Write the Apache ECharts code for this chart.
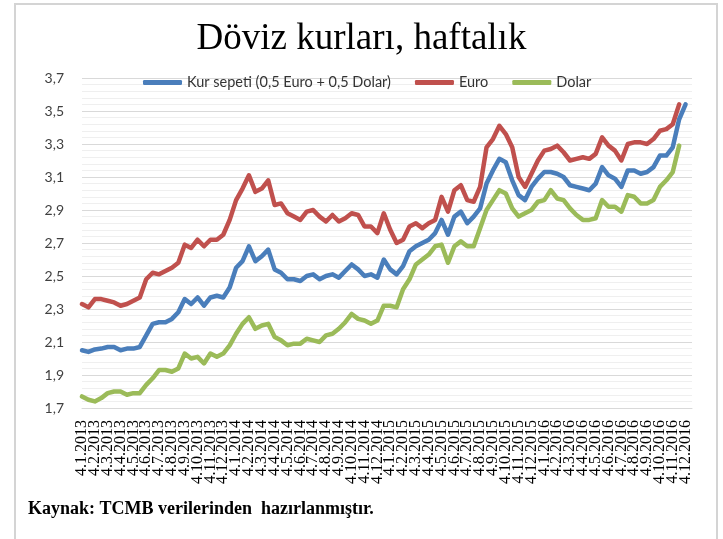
<!DOCTYPE html>
<html>
<head>
<meta charset="utf-8">
<script src="https://cdn.jsdelivr.net/npm/echarts@6/dist/echarts.min.js"></script>
<style>
  html,body{margin:0;padding:0;background:#fff;}
  #chart{width:723px;height:539px;}
</style>
</head>
<body>
<div id="chart"></div>
<script>
// ayın 4'ü ve 18'i, iki haftalık noktalar
const years = [2013, 2014, 2015, 2016];
const euro = [
  2.33, 2.31, 2.36, 2.36, 2.35, 2.34, 2.32, 2.33, 2.35, 2.37,
  2.48, 2.52, 2.51, 2.53, 2.55, 2.58, 2.69, 2.67, 2.72, 2.68,
  2.72, 2.72, 2.75, 2.84, 2.96, 3.03, 3.11, 3.01, 3.03, 3.08,
  2.93, 2.94, 2.88, 2.86, 2.84, 2.89, 2.90, 2.86, 2.83, 2.87,
  2.83, 2.85, 2.88, 2.87, 2.80, 2.80, 2.76, 2.88, 2.78, 2.70,
  2.72, 2.80, 2.82, 2.79, 2.82, 2.84, 2.98, 2.89, 3.02, 3.05,
  2.96, 2.95, 3.04, 3.28, 3.33, 3.41, 3.36, 3.28, 3.10, 3.04,
  3.12, 3.20, 3.26, 3.27, 3.29, 3.25, 3.20, 3.21, 3.22, 3.21,
  3.24, 3.34, 3.29, 3.26, 3.20, 3.30, 3.31, 3.31, 3.30, 3.33,
  3.38, 3.39, 3.42, 3.54, null
];
const sepet = [
  2.05, 2.04, 2.055, 2.06, 2.07, 2.07, 2.05, 2.06, 2.06, 2.07,
  2.14, 2.21, 2.22, 2.22, 2.24, 2.28, 2.36, 2.33, 2.37, 2.32,
  2.37, 2.38, 2.37, 2.43, 2.55, 2.59, 2.68, 2.59, 2.62, 2.66,
  2.54, 2.52, 2.48, 2.48, 2.47, 2.50, 2.51, 2.48, 2.50, 2.51,
  2.49, 2.53, 2.57, 2.54, 2.50, 2.51, 2.49, 2.60, 2.54, 2.51,
  2.56, 2.65, 2.68, 2.70, 2.72, 2.76, 2.84, 2.75, 2.86, 2.89,
  2.82, 2.86, 2.91, 3.06, 3.14, 3.21, 3.19, 3.08, 2.99, 2.96,
  3.04, 3.09, 3.13, 3.13, 3.12, 3.10, 3.05, 3.04, 3.03, 3.02,
  3.06, 3.16, 3.11, 3.09, 3.04, 3.14, 3.14, 3.12, 3.13, 3.16,
  3.23, 3.23, 3.28, 3.45, 3.54
];
const dolar = [
  1.77, 1.75, 1.74, 1.76, 1.79, 1.80, 1.80, 1.78, 1.79, 1.79,
  1.84, 1.88, 1.93, 1.93, 1.92, 1.94, 2.03, 2.00, 2.01, 1.97,
  2.03, 2.01, 2.03, 2.08, 2.15, 2.21, 2.25, 2.18, 2.20, 2.21,
  2.13, 2.11, 2.08, 2.09, 2.09, 2.12, 2.11, 2.10, 2.14, 2.15,
  2.18, 2.22, 2.27, 2.24, 2.23, 2.21, 2.23, 2.32, 2.32, 2.31,
  2.42, 2.48, 2.57, 2.60, 2.63, 2.68, 2.69, 2.58, 2.68, 2.71,
  2.68, 2.68, 2.79, 2.90, 2.96, 3.02, 3.00, 2.91, 2.86, 2.88,
  2.90, 2.95, 2.96, 3.02, 2.97, 2.96, 2.91, 2.87, 2.84, 2.84,
  2.85, 2.96, 2.92, 2.92, 2.89, 2.99, 2.98, 2.94, 2.94, 2.96,
  3.04, 3.08, 3.13, 3.29, null
];

const categories = [];
years.forEach(y=>{
  for(let m=1;m<=12;m++){
    categories.push(`4.${m}.${y}`);
    categories.push(`18.${m}.${y}`);
  }
});

const chart = echarts.init(document.getElementById('chart'));
const lineSeries = (name, data, color)=>({
  name, type:'line', data, showSymbol:false,
  lineStyle:{width:4.5, color, cap:'round', join:'round'},
  itemStyle:{color}
});

chart.setOption({
  animation:false,
  title:{
    text:'Döviz kurları, haftalık', left:'center', top:16,
    textStyle:{fontFamily:'Liberation Serif', fontSize:37, fontWeight:'normal', color:'#000'}
  },
  legend:{
    left:138, top:70, itemGap:24, itemWidth:39, itemHeight:5, icon:'roundRect',
    textStyle:{fontFamily:'Lato', fontSize:14.5, color:'#333'},
    data:['Kur sepeti (0,5 Euro + 0,5 Dolar)','Euro','Dolar']
  },
  grid:{left:82, right:31, top:78, bottom:131},
  xAxis:{
    type:'category', data:categories, boundaryGap:false,
    axisTick:{show:false},
    axisLine:{lineStyle:{color:'#d9d9d9'}},
    axisLabel:{
      interval:0, rotate:90, margin:12, showMinLabel:true, showMaxLabel:true,
      fontFamily:'Liberation Serif', fontSize:16, color:'#000',
      formatter:(v, i)=> i % 2 ? '' : v
    }
  },
  yAxis:{
    type:'value', min:1.7, max:3.7, interval:0.2,
    axisLine:{show:false}, axisTick:{show:false},
    axisLabel:{margin:18, fontFamily:'Lato', fontSize:14, color:'#404040',
      formatter:v=>v.toFixed(1).replace('.', ',')},
    splitLine:{lineStyle:{color:'#d9d9d9'}},
    minorTick:{show:false, splitNumber:5},
    minorSplitLine:{show:true, lineStyle:{color:'#efefef'}}
  },
  graphic:[
    {type:'rect', shape:{x:15, y:4, width:702, height:600}, style:{fill:'none', stroke:'#d4d4d4', lineWidth:2}},
    {type:'text', left:28, top:500, style:{text:'Kaynak: TCMB verilerinden  hazırlanmıştır.',
      font:'bold 18px "Liberation Serif"', fill:'#000'}}
  ],
  series:[
    lineSeries('Kur sepeti (0,5 Euro + 0,5 Dolar)', sepet, '#4a7ebb'),
    lineSeries('Euro', euro, '#c0504d'),
    lineSeries('Dolar', dolar, '#9bbb59')
  ]
});
</script>
</body>
</html>
